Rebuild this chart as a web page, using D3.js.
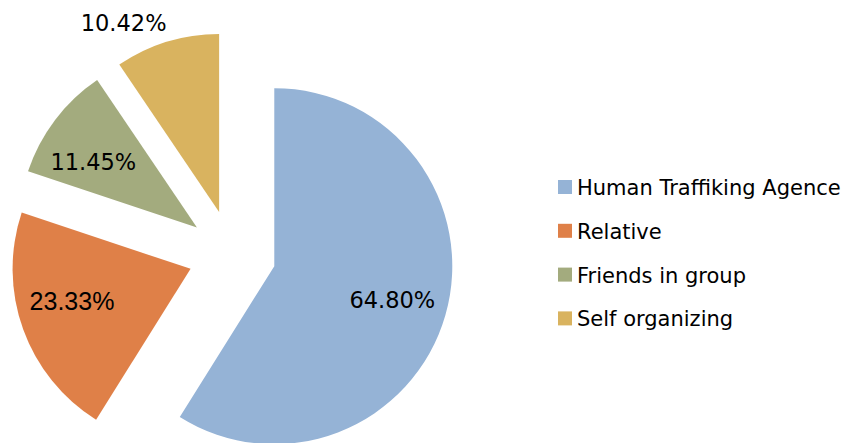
<!DOCTYPE html>
<html>
<head>
<meta charset="utf-8">
<script src="https://cdn.jsdelivr.net/npm/d3@7"></script>
<style>
  body { margin: 0; background: #fff; }
  svg { display: block; }
</style>
</head>
<body>
<svg id="chart" width="847" height="443"></svg>
<script>
// data
var categories = ["Human Traffiking Agence", "Relative", "Friends in group", "Self organizing"];
var values = [64.80, 23.33, 11.45, 10.42];
var labels = ["64.80%", "23.33%", "11.45%", "10.42%"];
var colors = ["#95b3d6", "#df8048", "#a3ab7e", "#d9b35f"];

var svg = d3.select("#chart");

var cx = 232, cy = 254;
var radius = 178;
var explode = 44;

var pie = d3.pie().sort(null).value(function(d) { return d; });
var arcs = pie(values);

var arc = d3.arc().innerRadius(0).outerRadius(radius);

var g = svg.append("g").attr("transform", "translate(" + cx + "," + cy + ")");

function offset(d) {
    var a = (d.startAngle + d.endAngle) / 2;
    return [Math.sin(a) * explode, -Math.cos(a) * explode];
}

var slice = g.selectAll("g.slice")
    .data(arcs)
    .enter()
    .append("g")
    .attr("class", "slice")
    .attr("transform", function(d) {
        var o = offset(d);
        return "translate(" + o[0] + "," + o[1] + ")";
    });

slice.append("path")
    .attr("d", arc)
    .style("fill", function(d, i) { return colors[i]; });

// labels: inside for the big ones, the small last one sits outside
var labelShift = [0, 0.082, -0.082, -0.17];
slice.append("text")
    .attr("transform", function(d, i) {
        var a = (d.startAngle + d.endAngle) / 2 + labelShift[i];
        var r = i == 3 ? radius * 1.19 : radius * 0.69;
        return "translate(" + (Math.sin(a) * r) + "," + (-Math.cos(a) * r) + ")";
    })
    .attr("text-anchor", "middle")
    .attr("dy", "0.36em")
    .style("font-family", function(d, i) { return i == 1 ? "Liberation Sans, Arial, sans-serif" : "DejaVu Sans, sans-serif"; })
    .style("font-size", function(d, i) { return i == 1 ? "25px" : "22.5px"; })
    .style("fill", "#000")
    .text(function(d, i) { return labels[i]; });

// legend
var legend = svg.append("g").attr("transform", "translate(558,180)");
var item = legend.selectAll("g")
    .data(categories)
    .enter()
    .append("g")
    .attr("transform", function(d, i) { return "translate(0," + (i * 43.8) + ")"; });

item.append("rect")
    .attr("width", 14)
    .attr("height", 14)
    .style("fill", function(d, i) { return colors[i]; });

item.append("text")
    .attr("x", 19)
    .attr("y", 15)
    .style("font-family", "DejaVu Sans, sans-serif")
    .style("font-size", "21px")
    .style("fill", "#000")
    .text(function(d) { return d; });
</script>
</body>
</html>
